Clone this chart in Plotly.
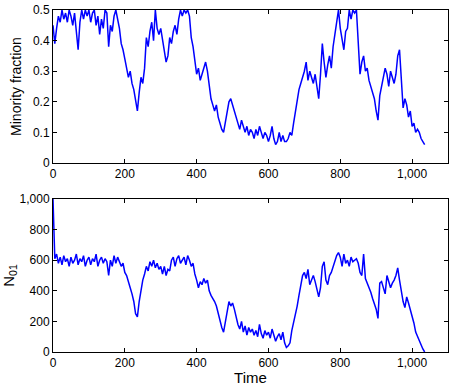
import plotly.graph_objects as go
from plotly.subplots import make_subplots

time = list(range(0, 1040, 5))

minority_fraction = [
    0.45, 0.39, 0.44, 0.48, 0.46, 0.50, 0.47, 0.49, 0.46, 0.50,
    0.48, 0.45, 0.49, 0.44, 0.37, 0.46, 0.50, 0.47, 0.50, 0.48,
    0.50, 0.46, 0.49, 0.50, 0.45, 0.48, 0.42, 0.47, 0.44, 0.50,
    0.49, 0.38, 0.45, 0.43, 0.48, 0.50, 0.47, 0.44, 0.39, 0.37,
    0.34, 0.31, 0.28, 0.30, 0.26, 0.24, 0.20, 0.17, 0.23, 0.28,
    0.26, 0.31, 0.41, 0.38, 0.43, 0.46, 0.40, 0.50, 0.44, 0.42,
    0.44, 0.40, 0.37, 0.33, 0.35, 0.41, 0.39, 0.43, 0.45, 0.42,
    0.47, 0.50, 0.48, 0.50, 0.49, 0.50, 0.48, 0.41, 0.38, 0.33,
    0.29, 0.31, 0.27, 0.29, 0.31, 0.33, 0.30, 0.26, 0.21, 0.19,
    0.17, 0.19, 0.15, 0.13, 0.11, 0.10, 0.13, 0.16, 0.20, 0.21,
    0.19, 0.17, 0.15, 0.13, 0.11, 0.14, 0.12, 0.10, 0.12, 0.09,
    0.11, 0.10, 0.08, 0.11, 0.09, 0.12, 0.10, 0.08, 0.10, 0.09,
    0.07, 0.09, 0.12, 0.08, 0.06, 0.07, 0.10, 0.07, 0.09, 0.07,
    0.07, 0.08, 0.10, 0.09, 0.13, 0.17, 0.20, 0.24, 0.26, 0.28,
    0.30, 0.33, 0.27, 0.30, 0.28, 0.26, 0.29, 0.24, 0.21, 0.29,
    0.39, 0.33, 0.28, 0.32, 0.35, 0.31, 0.38, 0.42, 0.46, 0.50,
    0.44, 0.40, 0.37, 0.43, 0.44, 0.50, 0.47, 0.50, 0.49, 0.50,
    0.41, 0.29, 0.33, 0.35, 0.30, 0.31, 0.27, 0.25, 0.23, 0.21,
    0.17, 0.14, 0.22, 0.25, 0.27, 0.31, 0.29, 0.25, 0.30, 0.28,
    0.26, 0.29, 0.35, 0.37, 0.26, 0.18, 0.21, 0.19, 0.15, 0.17,
    0.12, 0.13, 0.10, 0.11, 0.10, 0.08, 0.07, 0.06,
]

n01 = [
    1000, 610, 640, 580, 620, 570, 630, 590, 610, 560,
    620, 580, 600, 640, 570, 610, 590, 630, 560, 600,
    620, 570, 610, 590, 640, 560, 600, 620, 580, 610,
    590, 500, 600, 560, 630, 580, 620, 590, 560, 580,
    520, 500, 450, 420, 380, 330, 250, 230, 330, 400,
    470, 510, 560, 530, 590, 560, 600, 550, 580, 540,
    560, 510, 560, 500, 540, 530, 600, 620, 560, 610,
    630, 580, 600, 620, 570, 630, 600, 560, 580, 510,
    470, 420, 460, 440, 480, 450, 470, 400, 370, 350,
    330, 300, 250, 210, 160, 130, 200, 280, 330, 300,
    320, 280, 220, 180, 150, 200, 130, 170, 110, 160,
    130, 150, 110, 140, 100, 180, 120, 90, 140, 110,
    130, 90, 150, 110, 70, 100, 120, 80, 130, 60,
    30, 40, 60, 140, 190, 240, 300, 370, 440, 500,
    520, 480, 540, 440, 470, 500, 460, 400, 360, 420,
    560, 590, 470, 440, 500, 520, 560, 600, 630, 650,
    620, 560, 640, 580, 600, 560, 620, 590, 600, 610,
    580, 520, 500, 640, 480, 450, 430, 390, 350, 310,
    280, 220, 450, 460, 420, 380, 500, 460, 420, 450,
    470, 500, 550, 470, 400, 330, 290, 360, 320, 280,
    240, 190, 130, 100, 70, 40, 20, 0,
]

top_ticks = [0, 0.1, 0.2, 0.3, 0.4, 0.5]
top_ticklabels = ["0", "0.1", "0.2", "0.3", "0.4", "0.5"]
bottom_ticks = [0, 200, 400, 600, 800, 1000]
bottom_ticklabels = ["0", "200", "400", "600", "800", "1,000"]
x_ticks = [0, 200, 400, 600, 800, 1000]
x_ticklabels = ["0", "200", "400", "600", "800", "1,000"]

fig = make_subplots(rows=2, cols=1, vertical_spacing=0.1)
fig.add_trace(go.Scatter(x=time, y=minority_fraction, mode="lines",
                         line=dict(color="#0000ff", width=1.5), showlegend=False), row=1, col=1)
fig.add_trace(go.Scatter(x=time, y=n01, mode="lines",
                         line=dict(color="#0000ff", width=1.5), showlegend=False), row=2, col=1)

axis_common = dict(showgrid=False, zeroline=False, showline=True, linecolor="black",
                   linewidth=1, mirror="ticks", ticks="inside", ticklen=4,
                   tickcolor="black", tickfont=dict(size=12, color="black"),
                   automargin=False)

fig.update_xaxes(range=[0, 1100], tickvals=x_ticks, ticktext=x_ticklabels, **axis_common)
fig.update_xaxes(domain=[0, 1])
fig.update_yaxes(**axis_common)
fig.update_yaxes(range=[0, 0.5], tickvals=top_ticks, ticktext=top_ticklabels,
                 domain=[0.5526, 1.0],
                 title=dict(text="Minority fraction", font=dict(size=14, color="black"), standoff=8),
                 row=1, col=1)
fig.update_yaxes(range=[0, 1000], tickvals=bottom_ticks, ticktext=bottom_ticklabels,
                 domain=[0.0, 0.4474],
                 title=dict(text="N<sub>01</sub>", font=dict(size=15, color="black"), standoff=4),
                 row=2, col=1)
fig.update_xaxes(title=dict(text="Time", font=dict(size=15, color="black"), standoff=2), row=2, col=1)

fig.update_layout(width=452, height=386, margin=dict(l=53, r=4, t=10, b=34),
                  plot_bgcolor="white", paper_bgcolor="white",
                  font=dict(family="Liberation Sans, Arial, sans-serif", color="black"))

fig.write_html("out.html", config={"displayModeBar": False},
               post_script="document.body.style.margin='0';document.body.style.overflow='hidden';")
